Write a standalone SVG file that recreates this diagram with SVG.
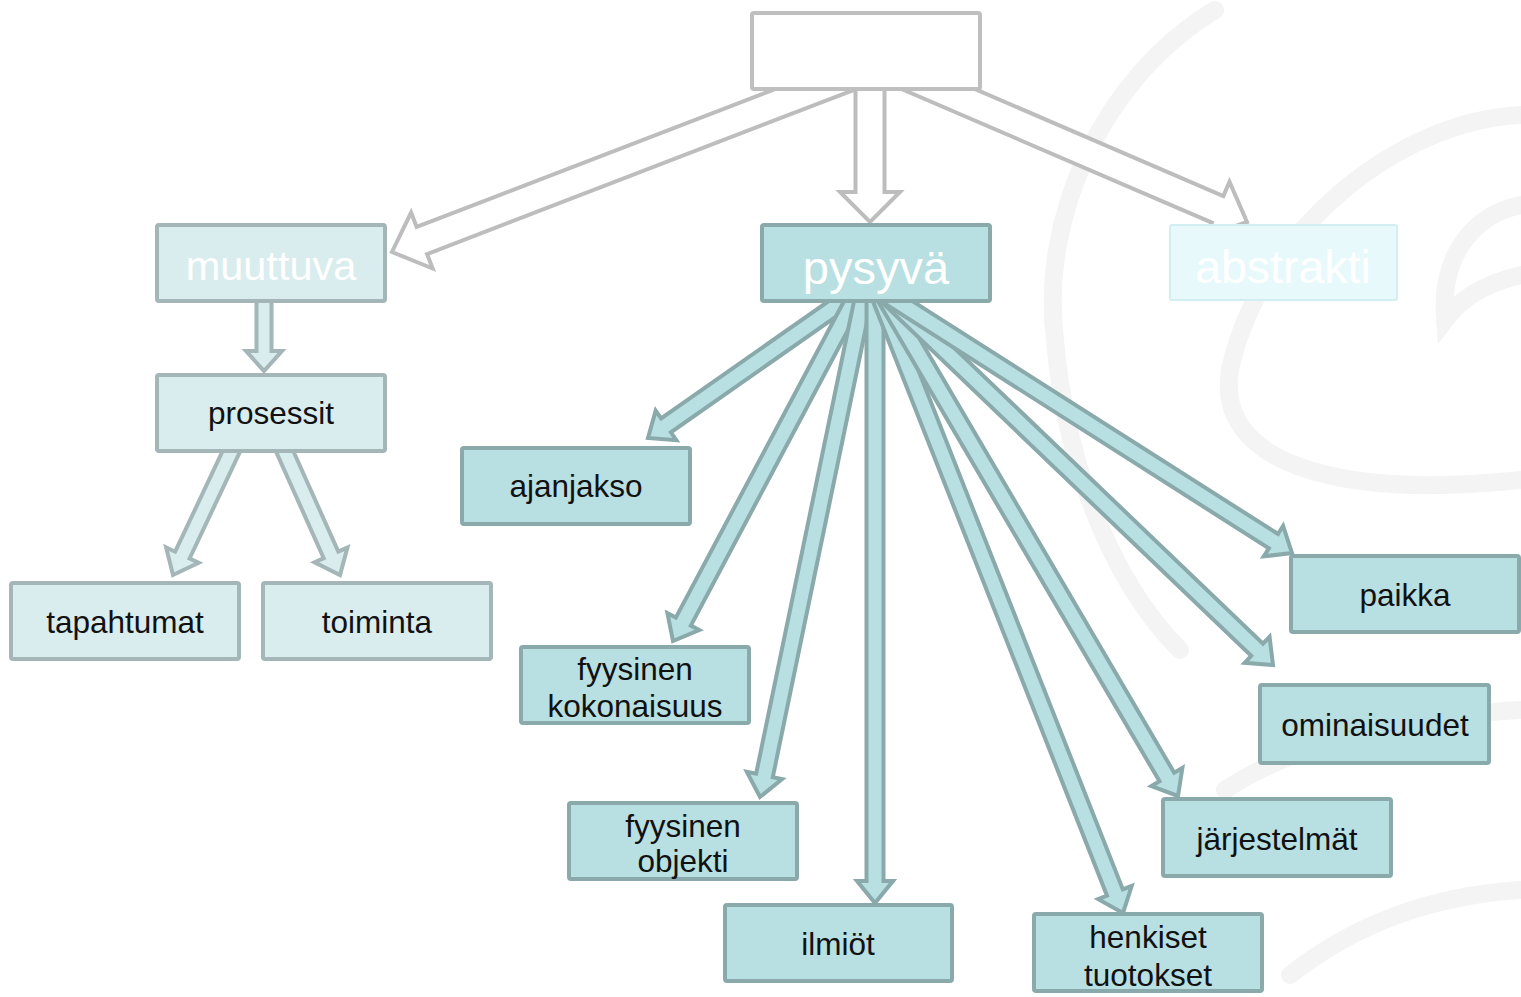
<svg xmlns="http://www.w3.org/2000/svg" width="1521" height="997" viewBox="0 0 1521 997">
<style>
.bg{fill:none;stroke:#f4f4f4;stroke-width:18;stroke-linecap:round}
.ga{fill:#ffffff;stroke:#bdbdbd;stroke-width:4;stroke-linejoin:miter}
.la{fill:#d9ecee;stroke:#a4b6b7;stroke-width:4}
.pa{fill:#b8dfe2;stroke:#8aa9ab;stroke-width:4}
.top{fill:#ffffff;stroke:#bfbfbf;stroke-width:4}
.ln{fill:#d9ecee;stroke:#a4b6b7;stroke-width:4}
.pn{fill:#b8dfe2;stroke:#8aa9ab;stroke-width:4}
.an{fill:#e8f9fc;stroke:#d3eef1;stroke-width:2}
.t{font-family:"Liberation Sans",Arial,sans-serif;font-size:31.5px;fill:#111111;text-anchor:middle}
.h{font-family:"Liberation Sans",Arial,sans-serif;fill:#ffffff;text-anchor:middle}
</style>
<rect width="1521" height="997" fill="#ffffff"/>
<g id="background">
<path class="bg" d="M 1215 10 C 1100 80, 1040 220, 1055 340 C 1065 460, 1110 580, 1180 650"/>
<path class="bg" d="M 1521 115 C 1400 120, 1260 230, 1230 370 C 1215 460, 1330 500, 1521 480"/>
<path class="bg" d="M 1521 205 C 1470 215, 1440 260, 1445 320 C 1460 300, 1480 285, 1521 275"/>
<path class="bg" d="M 1225 790 C 1300 740, 1420 715, 1521 710"/>
<path class="bg" d="M 1290 975 C 1360 920, 1440 895, 1521 890"/>
</g>
<g id="connectors">
<polygon class="ga" transform="translate(392,252) rotate(158.96)" points="-500,-14.5 -32,-14.5 -32,-30 0,0 -32,30 -32,14.5 -500,14.5"/>
<polygon class="ga" transform="translate(870,222) rotate(90)" points="-150,-14.5 -30,-14.5 -30,-30 0,0 -30,30 -30,14.5 -150,14.5"/>
<polygon class="ga" transform="translate(1247,222) rotate(23.3)" points="-380,-14.5 -32,-14.5 -32,-30 0,0 -32,30 -32,14.5 -380,14.5"/>
<polygon class="la" transform="translate(264,371) rotate(90)" points="-82,-7.5 -20,-7.5 -20,-18 0,0 -20,18 -20,7.5 -82,7.5"/>
<polygon class="la" transform="translate(173,575) rotate(115.25)" points="-156,-8 -22,-8 -22,-18 0,0 -22,18 -22,8 -156,8"/>
<polygon class="la" transform="translate(340,575) rotate(65.9)" points="-155,-8 -22,-8 -22,-18 0,0 -22,18 -22,8 -155,8"/>
<polygon class="pa" transform="translate(648,438) rotate(145)" points="-272,-8.5 -22,-8.5 -22,-18 0,0 -22,18 -22,8.5 -272,8.5"/>
<polygon class="pa" transform="translate(673,641) rotate(118)" points="-421,-8.5 -22,-8.5 -22,-18 0,0 -22,18 -22,8.5 -421,8.5"/>
<polygon class="pa" transform="translate(760,797) rotate(101.7)" points="-543,-8.5 -22,-8.5 -22,-18 0,0 -22,18 -22,8.5 -543,8.5"/>
<polygon class="pa" transform="translate(875,903) rotate(90)" points="-638,-8.5 -22,-8.5 -22,-18 0,0 -22,18 -22,8.5 -638,8.5"/>
<polygon class="pa" transform="translate(1123,913) rotate(68.5)" points="-693,-8.5 -22,-8.5 -22,-18 0,0 -22,18 -22,8.5 -693,8.5"/>
<polygon class="pa" transform="translate(1178,796) rotate(59.6)" points="-609,-8.5 -22,-8.5 -22,-18 0,0 -22,18 -22,8.5 -609,8.5"/>
<polygon class="pa" transform="translate(1273,665) rotate(43.76)" points="-561,-8.5 -22,-8.5 -22,-18 0,0 -22,18 -22,8.5 -561,8.5"/>
<polygon class="pa" transform="translate(1292,553) rotate(32.5)" points="-501,-8.5 -22,-8.5 -22,-18 0,0 -22,18 -22,8.5 -501,8.5"/>
</g>
<g id="node-top"><rect class="top" x="752" y="13" width="228" height="76" rx="2"/></g>
<g id="node-muuttuva"><rect class="ln" x="157" y="225" width="228" height="76" rx="2"/><text class="h" x="271" y="280" font-size="41.5">muuttuva</text></g>
<g id="node-pysyva"><rect class="pn" x="762" y="225" width="228" height="76" rx="2"/><text class="h" x="876" y="284" font-size="47">pysyvä</text></g>
<g id="node-abstrakti"><rect class="an" x="1170" y="225" width="227" height="75" rx="2"/><text class="h" x="1283" y="283" font-size="46.5">abstrakti</text></g>
<g id="node-prosessit"><rect class="ln" x="157" y="375" width="228" height="76" rx="2"/><text class="t" x="271" y="424">prosessit</text></g>
<g id="node-tapahtumat"><rect class="ln" x="11" y="583" width="228" height="76" rx="2"/><text class="t" x="125" y="633">tapahtumat</text></g>
<g id="node-toiminta"><rect class="ln" x="263" y="583" width="228" height="76" rx="2"/><text class="t" x="377" y="633">toiminta</text></g>
<g id="node-ajanjakso"><rect class="pn" x="462" y="448" width="228" height="76" rx="2"/><text class="t" x="576" y="497">ajanjakso</text></g>
<g id="node-fyysinen-kokonaisuus"><rect class="pn" x="521" y="647" width="228" height="76" rx="2"/><text class="t" x="635" y="680">fyysinen</text><text class="t" x="635" y="717">kokonaisuus</text></g>
<g id="node-fyysinen-objekti"><rect class="pn" x="569" y="803" width="228" height="76" rx="2"/><text class="t" x="683" y="837">fyysinen</text><text class="t" x="683" y="872">objekti</text></g>
<g id="node-ilmiot"><rect class="pn" x="725" y="905" width="227" height="76" rx="2"/><text class="t" x="838" y="955">ilmiöt</text></g>
<g id="node-henkiset-tuotokset"><rect class="pn" x="1034" y="914" width="228" height="77" rx="2"/><text class="t" x="1148" y="948">henkiset</text><text class="t" x="1148" y="986">tuotokset</text></g>
<g id="node-jarjestelmat"><rect class="pn" x="1163" y="799" width="228" height="77" rx="2"/><text class="t" x="1277" y="850">järjestelmät</text></g>
<g id="node-ominaisuudet"><rect class="pn" x="1260" y="685" width="229" height="78" rx="2"/><text class="t" x="1375" y="736" font-size="29.5px">ominaisuudet</text></g>
<g id="node-paikka"><rect class="pn" x="1291" y="556" width="228" height="76" rx="2"/><text class="t" x="1405" y="606">paikka</text></g>
</svg>
